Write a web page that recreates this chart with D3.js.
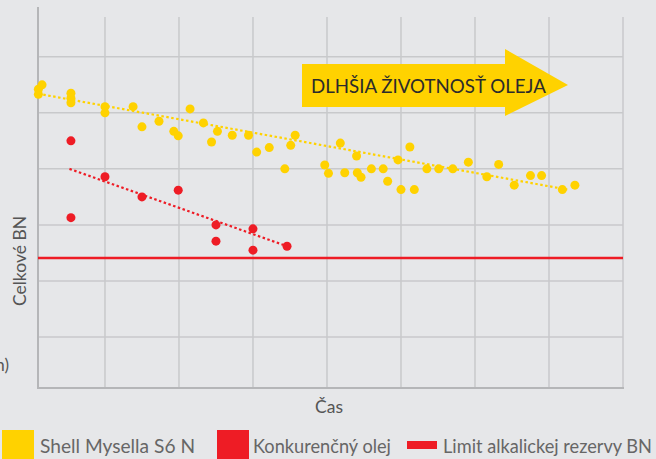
<!DOCTYPE html>
<html>
<head>
<meta charset="utf-8">
<script src="https://cdn.jsdelivr.net/npm/d3@7/dist/d3.min.js"></script>
<style>
  html, body { margin: 0; padding: 0; background: #e6e7e9; }
  svg { display: block; font-family: Lato, "DejaVu Sans", sans-serif; }
</style>
</head>
<body>
<script>

// Data (time units on x, BN units on y)
var shellX = [-90, -85, -90, -46, -46, -46, 0, 0, 38, 50, 73, 93, 99, 115, 133, 144, 152, 172, 194, 205,
              222, 243, 251, 257, 297, 302, 318, 324, 340, 341, 346, 360, 376, 382, 396, 400, 412, 418,
              435, 451, 470, 491, 516, 532, 553, 575, 590, 618, 635];
var shellY = [442, 450, 433, 435, 426, 418, 411, 400, 411, 375, 385, 367, 359, 407, 382, 348, 367, 360, 360, 330,
              338, 300, 342, 360, 307, 292, 346, 293, 323, 293, 285, 300, 300, 278, 316, 263, 339, 263,
              300, 300, 300, 312, 286, 308, 271, 288, 288, 263, 271];
var competitorX = [-46, 0, 50, 99, -46, 150, 200, 150, 200, 246];
var competitorY = [350, 286, 250, 262, 213, 200, 193, 171, 155, 162];

// dotted trend lines (start, end)
var shellTrendX = [-90, 625];
var shellTrendY = [434, 263];
var competitorTrendX = [-48, 246];
var competitorTrendY = [300, 162];

var limitBN = 141;

var xGrid = [0, 100, 200, 300, 400, 500, 600, 700];
var yGrid = [0, 100, 200, 300, 400, 500];

var legendLabels = ["Shell Mysella S6 N", "Konkurenčný olej", "Limit alkalickej rezervy BN"];

var yellow = "#ffd200";
var red = "#ee1c25";

var width = 656, height = 459;
var svg = d3.select("body").append("svg")
    .attr("width", width)
    .attr("height", height);

var x = d3.scaleLinear().domain([-90.5, 700]).range([38, 623]);
var y = d3.scaleLinear().domain([-91, 571]).range([388, 17]);

// grid
svg.append("g").selectAll("line.v")
    .data(xGrid)
    .enter().append("line")
    .attr("x1", function (d) { return x(d); })
    .attr("x2", function (d) { return x(d); })
    .attr("y1", y(571))
    .attr("y2", y(-91))
    .attr("stroke", "#c8c9cb")
    .attr("stroke-width", 1.5);

svg.append("g").selectAll("line.h")
    .data(yGrid)
    .enter().append("line")
    .attr("x1", x(-90.5))
    .attr("x2", x(700))
    .attr("y1", function (d) { return y(d); })
    .attr("y2", function (d) { return y(d); })
    .attr("stroke", "#c8c9cb")
    .attr("stroke-width", 1.5);

// axis lines
svg.append("line")
    .attr("x1", x(-90.5)).attr("x2", x(-90.5))
    .attr("y1", 7).attr("y2", y(-91) + 1)
    .attr("stroke", "#b5b6b8").attr("stroke-width", 2);
svg.append("line")
    .attr("x1", x(-90.5) - 1).attr("x2", x(700) + 1)
    .attr("y1", y(-91)).attr("y2", y(-91))
    .attr("stroke", "#b5b6b8").attr("stroke-width", 2);

// limit line
svg.append("line")
    .attr("x1", x(-90.5)).attr("x2", x(700))
    .attr("y1", y(limitBN)).attr("y2", y(limitBN))
    .attr("stroke", red).attr("stroke-width", 2.5);

// arrow
var arrow = svg.append("g");
arrow.append("path")
    .attr("d", "M302,64 L505,64 L505,49 L568,85 L505,116 L505,107 L302,107 Z")
    .attr("fill", yellow);
arrow.append("text")
    .attr("x", 311)
    .attr("y", 93)
    .attr("fill", "#2b2b2b")
    .style("font-size", "19px")
    .attr("textLength", 235)
    .attr("lengthAdjust", "spacingAndGlyphs")
    .text("DLHŠIA ŽIVOTNOSŤ OLEJA");

// trend lines
function trend(xs, ys, color) {
    svg.append("line")
        .attr("x1", x(xs[0])).attr("y1", y(ys[0]))
        .attr("x2", x(xs[1])).attr("y2", y(ys[1]))
        .attr("stroke", color)
        .attr("stroke-width", 2.2)
        .attr("stroke-dasharray", "2.5,2.5");
}
trend(shellTrendX, shellTrendY, yellow);
trend(competitorTrendX, competitorTrendY, red);

// points
svg.append("g").selectAll("circle")
    .data(d3.range(shellX.length))
    .enter().append("circle")
    .attr("cx", function (i) { return x(shellX[i]); })
    .attr("cy", function (i) { return y(shellY[i]); })
    .attr("r", 4.5)
    .attr("fill", yellow);

svg.append("g").selectAll("circle")
    .data(d3.range(competitorX.length))
    .enter().append("circle")
    .attr("cx", function (i) { return x(competitorX[i]); })
    .attr("cy", function (i) { return y(competitorY[i]); })
    .attr("r", 4.5)
    .attr("fill", red);

// axis titles
svg.append("text")
    .attr("transform", "translate(26,261) rotate(-90)")
    .attr("text-anchor", "middle")
    .attr("fill", "#555")
    .style("font-size", "17.5px")
    .text("Celkové BN");

svg.append("text")
    .attr("x", 9)
    .attr("y", 371)
    .attr("text-anchor", "end")
    .attr("fill", "#555")
    .style("font-size", "17px")
    .text("n)");

svg.append("text")
    .attr("x", 329)
    .attr("y", 413)
    .attr("text-anchor", "middle")
    .attr("fill", "#555")
    .style("font-size", "17.5px")
    .text("Čas");

// legend
var lg = svg.append("g");
lg.append("rect").attr("x", 2).attr("y", 430).attr("width", 32).attr("height", 32).attr("fill", yellow);
lg.append("rect").attr("x", 217).attr("y", 430).attr("width", 32).attr("height", 32).attr("fill", red);
lg.append("rect").attr("x", 407).attr("y", 441).attr("width", 30).attr("height", 8).attr("fill", red);
var legendX = [40, 253, 443];
var legendW = [155, 138, 209];
lg.selectAll("text")
    .data(legendLabels)
    .enter().append("text")
    .attr("x", function (d, i) { return legendX[i]; })
    .attr("y", 453)
    .attr("fill", "#666")
    .style("font-size", "18.5px")
    .attr("textLength", function (d, i) { return legendW[i]; })
    .attr("lengthAdjust", "spacingAndGlyphs")
    .text(function (d) { return d; });

</script>
</body>
</html>
